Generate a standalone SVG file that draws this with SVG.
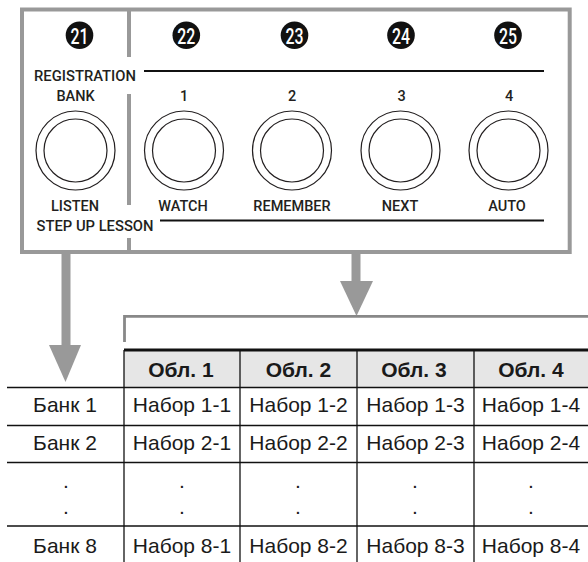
<svg xmlns="http://www.w3.org/2000/svg" width="588" height="562" viewBox="0 0 588 562">
<style>
.lbl{font-family:Roboto,"DejaVu Sans Condensed",sans-serif;font-weight:500;font-size:14.5px;fill:#231f20;text-anchor:middle}
.num{font-family:Roboto,"Liberation Sans",sans-serif;font-weight:500;font-size:22px;fill:#fff;text-anchor:middle}
.btn{fill:none;stroke:#231f20;stroke-width:1.2}
.frame{fill:none;stroke:#999;stroke-width:4}
.cell{font-family:"Liberation Sans",Arial,sans-serif;font-size:21px;fill:#1a1a1a;text-anchor:middle}
.hdr{font-family:"Liberation Sans",Arial,sans-serif;font-size:21px;font-weight:bold;fill:#1a1a1a;text-anchor:middle}
.grid{stroke:#111;stroke-width:1.3}
.arrow{fill:#999}
</style>
<defs>
<g id="button"><circle r="39.5" class="btn"/><circle r="31.5" class="btn"/></g>
</defs>

<g id="panel">
  <rect x="22" y="9.5" width="547.7" height="242.5" class="frame"/>
  <line x1="129" y1="9" x2="129" y2="57" stroke="#999" stroke-width="4"/>
  <line x1="129" y1="94" x2="129" y2="205" stroke="#999" stroke-width="4"/>
  <line x1="129" y1="238" x2="129" y2="252" stroke="#999" stroke-width="4"/>
  <line x1="144" y1="71" x2="544" y2="71" stroke="#111" stroke-width="2.2"/>
  <line x1="160" y1="220.5" x2="544" y2="220.5" stroke="#111" stroke-width="2.2"/>
  <text x="85" y="81" class="lbl" textLength="102" lengthAdjust="spacingAndGlyphs">REGISTRATION</text>
  <text x="95" y="231" class="lbl" textLength="117" lengthAdjust="spacingAndGlyphs">STEP UP LESSON</text>
</g>

<g id="n21">
  <circle cx="79.5" cy="35.3" r="13.8" fill="#111"/>
  <text x="79.5" y="43.5" class="num" textLength="18" lengthAdjust="spacingAndGlyphs">21</text>
  <text x="75.5" y="100.7" class="lbl">BANK</text>
  <use href="#button" x="75.5" y="150.5"/>
  <text x="75" y="210.7" class="lbl">LISTEN</text>
</g>
<g id="n22">
  <circle cx="186.3" cy="35.3" r="13.8" fill="#111"/>
  <text x="186.3" y="43.5" class="num" textLength="18" lengthAdjust="spacingAndGlyphs">22</text>
  <text x="184" y="100.7" class="lbl">1</text>
  <use href="#button" x="184" y="150.5"/>
  <text x="183" y="210.7" class="lbl">WATCH</text>
</g>
<g id="n23">
  <circle cx="294.5" cy="35.3" r="13.8" fill="#111"/>
  <text x="294.5" y="43.5" class="num" textLength="18" lengthAdjust="spacingAndGlyphs">23</text>
  <text x="292" y="100.7" class="lbl">2</text>
  <use href="#button" x="292" y="150.5"/>
  <text x="292" y="210.7" class="lbl">REMEMBER</text>
</g>
<g id="n24">
  <circle cx="401" cy="35.3" r="13.8" fill="#111"/>
  <text x="401" y="43.5" class="num" textLength="18" lengthAdjust="spacingAndGlyphs">24</text>
  <text x="401.5" y="100.7" class="lbl">3</text>
  <use href="#button" x="400.5" y="150.5"/>
  <text x="400" y="210.7" class="lbl">NEXT</text>
</g>
<g id="n25">
  <circle cx="508" cy="35.3" r="13.8" fill="#111"/>
  <text x="508" y="43.5" class="num" textLength="18" lengthAdjust="spacingAndGlyphs">25</text>
  <text x="509" y="100.7" class="lbl">4</text>
  <use href="#button" x="508.5" y="150.5"/>
  <text x="507" y="210.7" class="lbl">AUTO</text>
</g>

<g id="connectors">
  <rect x="61.5" y="252" width="9" height="94" class="arrow"/>
  <polygon points="49,345 81,345 65.5,382" class="arrow"/>
  <rect x="351.5" y="252" width="9" height="30" class="arrow"/>
  <polygon points="340,281 373,281 356.5,316" class="arrow"/>
  <polyline points="124.5,342 124.5,316.3 588,316.3" fill="none" stroke="#888" stroke-width="2.8"/>
</g>

<g id="table">
  <rect x="124" y="351" width="464" height="36" fill="#e6e6e6"/>
  <rect x="124" y="348.5" width="464" height="3" fill="#111"/>
  <line x1="7" y1="387.5" x2="588" y2="387.5" class="grid"/>
  <line x1="7" y1="425.5" x2="588" y2="425.5" class="grid"/>
  <line x1="7" y1="462.5" x2="588" y2="462.5" class="grid"/>
  <line x1="7" y1="526" x2="588" y2="526" class="grid"/>
  <line x1="124" y1="350" x2="124" y2="562" class="grid"/>
  <line x1="240" y1="350" x2="240" y2="562" class="grid"/>
  <line x1="357" y1="350" x2="357" y2="562" class="grid"/>
  <line x1="474" y1="350" x2="474" y2="562" class="grid"/>

  <text x="181" y="377" class="hdr">Обл. 1</text>
  <text x="298.5" y="377" class="hdr">Обл. 2</text>
  <text x="414" y="377" class="hdr">Обл. 3</text>
  <text x="531" y="377" class="hdr">Обл. 4</text>

  <text x="65" y="412" class="cell">Банк 1</text>
  <text x="182" y="412" class="cell">Набор 1-1</text>
  <text x="298.5" y="412" class="cell">Набор 1-2</text>
  <text x="415.5" y="412" class="cell">Набор 1-3</text>
  <text x="531" y="412" class="cell">Набор 1-4</text>

  <text x="65" y="450" class="cell">Банк 2</text>
  <text x="182" y="450" class="cell">Набор 2-1</text>
  <text x="298.5" y="450" class="cell">Набор 2-2</text>
  <text x="415.5" y="450" class="cell">Набор 2-3</text>
  <text x="531" y="450" class="cell">Набор 2-4</text>

  <text x="66" y="488" class="cell">.</text>
  <text x="182" y="488" class="cell">.</text>
  <text x="298" y="488" class="cell">.</text>
  <text x="415" y="488" class="cell">.</text>
  <text x="531" y="488" class="cell">.</text>
  <text x="66" y="514" class="cell">.</text>
  <text x="182" y="514" class="cell">.</text>
  <text x="298" y="514" class="cell">.</text>
  <text x="415" y="514" class="cell">.</text>
  <text x="531" y="514" class="cell">.</text>

  <text x="65" y="553" class="cell">Банк 8</text>
  <text x="182" y="553" class="cell">Набор 8-1</text>
  <text x="298.5" y="553" class="cell">Набор 8-2</text>
  <text x="415.5" y="553" class="cell">Набор 8-3</text>
  <text x="531" y="553" class="cell">Набор 8-4</text>
</g>
</svg>
